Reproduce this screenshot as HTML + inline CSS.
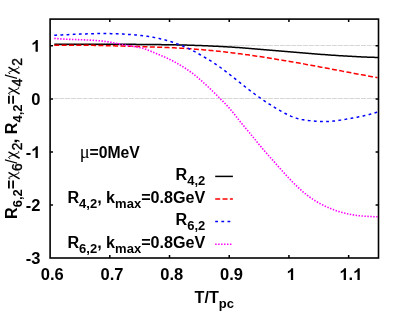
<!DOCTYPE html>
<html><head><meta charset="utf-8">
<style>
html,body{margin:0;padding:0;background:#fff;}
svg{display:block;will-change:transform;}
text{font-family:"Liberation Sans",sans-serif;font-weight:bold;font-size:16.15px;fill:#000;}
.sub{font-size:13px;}
.tk{font-size:16.5px;}
</style></head><body>
<svg width="407" height="326" viewBox="0 0 407 326">
<rect width="407" height="326" fill="#fff"/>
<g stroke="#d6d6d6" stroke-width="1" stroke-dasharray="4.9,0.9" fill="none"><path d="M53.6,98.50 H376.0"/><path d="M53.6,45.50 H376.0"/></g>
<g fill="none" stroke-linejoin="round">
<path d="M54.30,44.20 L55.80,44.20 L57.30,44.19 L58.80,44.19 L60.30,44.19 L61.80,44.19 L63.30,44.19 L64.80,44.18 L66.30,44.18 L67.80,44.18 L69.30,44.18 L70.80,44.18 L72.30,44.18 L73.80,44.18 L75.30,44.18 L76.80,44.18 L78.30,44.18 L79.80,44.18 L81.30,44.18 L82.80,44.18 L84.30,44.18 L85.80,44.18 L87.30,44.18 L88.80,44.18 L90.30,44.18 L91.80,44.18 L93.30,44.19 L94.80,44.19 L96.30,44.19 L97.80,44.20 L99.30,44.20 L100.80,44.20 L102.30,44.21 L103.80,44.21 L105.30,44.21 L106.80,44.22 L108.30,44.22 L109.80,44.23 L111.30,44.23 L112.80,44.24 L114.30,44.25 L115.80,44.25 L117.30,44.26 L118.80,44.27 L120.30,44.27 L121.80,44.28 L123.30,44.29 L124.80,44.30 L126.30,44.31 L127.80,44.31 L129.30,44.32 L130.80,44.33 L132.30,44.34 L133.80,44.35 L135.30,44.36 L136.80,44.38 L138.30,44.39 L139.80,44.40 L141.30,44.41 L142.80,44.42 L144.30,44.44 L145.80,44.45 L147.30,44.46 L148.80,44.48 L150.30,44.49 L151.80,44.51 L153.30,44.52 L154.80,44.54 L156.30,44.56 L157.80,44.58 L159.30,44.60 L160.80,44.62 L162.30,44.64 L163.80,44.66 L165.30,44.68 L166.80,44.71 L168.30,44.73 L169.80,44.76 L171.30,44.78 L172.80,44.81 L174.30,44.84 L175.80,44.87 L177.30,44.90 L178.80,44.94 L180.30,44.97 L181.80,45.01 L183.30,45.04 L184.80,45.08 L186.30,45.12 L187.80,45.17 L189.30,45.21 L190.80,45.25 L192.30,45.30 L193.80,45.35 L195.30,45.40 L196.80,45.45 L198.30,45.50 L199.80,45.56 L201.30,45.61 L202.80,45.67 L204.30,45.73 L205.80,45.79 L207.30,45.86 L208.80,45.92 L210.30,45.99 L211.80,46.06 L213.30,46.13 L214.80,46.20 L216.30,46.27 L217.80,46.35 L219.30,46.43 L220.80,46.51 L222.30,46.59 L223.80,46.67 L225.30,46.76 L226.80,46.84 L228.30,46.93 L229.80,47.03 L231.30,47.12 L232.80,47.21 L234.30,47.31 L235.80,47.41 L237.30,47.51 L238.80,47.62 L240.30,47.72 L241.80,47.83 L243.30,47.94 L244.80,48.05 L246.30,48.16 L247.80,48.28 L249.30,48.40 L250.80,48.51 L252.30,48.63 L253.80,48.75 L255.30,48.88 L256.80,49.00 L258.30,49.13 L259.80,49.25 L261.30,49.38 L262.80,49.51 L264.30,49.63 L265.80,49.76 L267.30,49.89 L268.80,50.02 L270.30,50.15 L271.80,50.28 L273.30,50.41 L274.80,50.55 L276.30,50.68 L277.80,50.81 L279.30,50.94 L280.80,51.07 L282.30,51.20 L283.80,51.33 L285.30,51.46 L286.80,51.59 L288.30,51.72 L289.80,51.85 L291.30,51.98 L292.80,52.10 L294.30,52.23 L295.80,52.36 L297.30,52.48 L298.80,52.61 L300.30,52.73 L301.80,52.86 L303.30,52.98 L304.80,53.10 L306.30,53.23 L307.80,53.35 L309.30,53.47 L310.80,53.59 L312.30,53.70 L313.80,53.82 L315.30,53.94 L316.80,54.05 L318.30,54.17 L319.80,54.28 L321.30,54.39 L322.80,54.50 L324.30,54.61 L325.80,54.72 L327.30,54.83 L328.80,54.94 L330.30,55.04 L331.80,55.14 L333.30,55.25 L334.80,55.35 L336.30,55.45 L337.80,55.54 L339.30,55.64 L340.80,55.73 L342.30,55.83 L343.80,55.92 L345.30,56.01 L346.80,56.10 L348.30,56.18 L349.80,56.27 L351.30,56.35 L352.80,56.43 L354.30,56.51 L355.80,56.59 L357.30,56.67 L358.80,56.74 L360.30,56.81 L361.80,56.88 L363.30,56.95 L364.80,57.01 L366.30,57.08 L367.80,57.14 L369.30,57.20 L370.80,57.26 L372.30,57.31 L373.80,57.36 L375.30,57.41 L376.80,57.46 L378.00,57.50" stroke="#000" stroke-width="1.5"/>
<path d="M54.30,45.30 L55.80,45.28 L57.30,45.26 L58.80,45.24 L60.30,45.22 L61.80,45.21 L63.30,45.20 L64.80,45.19 L66.30,45.18 L67.80,45.18 L69.30,45.17 L70.80,45.17 L72.30,45.17 L73.80,45.18 L75.30,45.18 L76.80,45.19 L78.30,45.20 L79.80,45.21 L81.30,45.22 L82.80,45.23 L84.30,45.25 L85.80,45.27 L87.30,45.28 L88.80,45.30 L90.30,45.33 L91.80,45.35 L93.30,45.37 L94.80,45.40 L96.30,45.43 L97.80,45.46 L99.30,45.49 L100.80,45.52 L102.30,45.55 L103.80,45.58 L105.30,45.62 L106.80,45.65 L108.30,45.69 L109.80,45.72 L111.30,45.76 L112.80,45.80 L114.30,45.84 L115.80,45.88 L117.30,45.92 L118.80,45.96 L120.30,46.01 L121.80,46.05 L123.30,46.09 L124.80,46.14 L126.30,46.18 L127.80,46.23 L129.30,46.27 L130.80,46.32 L132.30,46.36 L133.80,46.41 L135.30,46.45 L136.80,46.50 L138.30,46.55 L139.80,46.59 L141.30,46.64 L142.80,46.69 L144.30,46.73 L145.80,46.78 L147.30,46.83 L148.80,46.88 L150.30,46.93 L151.80,46.97 L153.30,47.02 L154.80,47.08 L156.30,47.13 L157.80,47.18 L159.30,47.23 L160.80,47.29 L162.30,47.35 L163.80,47.41 L165.30,47.47 L166.80,47.53 L168.30,47.59 L169.80,47.66 L171.30,47.72 L172.80,47.79 L174.30,47.86 L175.80,47.94 L177.30,48.01 L178.80,48.09 L180.30,48.17 L181.80,48.26 L183.30,48.34 L184.80,48.43 L186.30,48.53 L187.80,48.62 L189.30,48.72 L190.80,48.82 L192.30,48.93 L193.80,49.03 L195.30,49.15 L196.80,49.26 L198.30,49.38 L199.80,49.50 L201.30,49.62 L202.80,49.75 L204.30,49.88 L205.80,50.01 L207.30,50.15 L208.80,50.29 L210.30,50.43 L211.80,50.57 L213.30,50.72 L214.80,50.87 L216.30,51.02 L217.80,51.18 L219.30,51.34 L220.80,51.50 L222.30,51.66 L223.80,51.83 L225.30,52.00 L226.80,52.17 L228.30,52.35 L229.80,52.52 L231.30,52.70 L232.80,52.89 L234.30,53.07 L235.80,53.26 L237.30,53.45 L238.80,53.64 L240.30,53.84 L241.80,54.04 L243.30,54.24 L244.80,54.44 L246.30,54.64 L247.80,54.85 L249.30,55.06 L250.80,55.27 L252.30,55.49 L253.80,55.70 L255.30,55.92 L256.80,56.14 L258.30,56.36 L259.80,56.59 L261.30,56.82 L262.80,57.04 L264.30,57.28 L265.80,57.51 L267.30,57.74 L268.80,57.98 L270.30,58.22 L271.80,58.46 L273.30,58.70 L274.80,58.94 L276.30,59.19 L277.80,59.43 L279.30,59.68 L280.80,59.93 L282.30,60.19 L283.80,60.44 L285.30,60.69 L286.80,60.95 L288.30,61.21 L289.80,61.47 L291.30,61.73 L292.80,61.99 L294.30,62.25 L295.80,62.52 L297.30,62.78 L298.80,63.05 L300.30,63.32 L301.80,63.59 L303.30,63.86 L304.80,64.13 L306.30,64.40 L307.80,64.67 L309.30,64.95 L310.80,65.22 L312.30,65.50 L313.80,65.78 L315.30,66.05 L316.80,66.33 L318.30,66.61 L319.80,66.89 L321.30,67.17 L322.80,67.45 L324.30,67.73 L325.80,68.01 L327.30,68.29 L328.80,68.57 L330.30,68.86 L331.80,69.14 L333.30,69.42 L334.80,69.71 L336.30,69.99 L337.80,70.27 L339.30,70.56 L340.80,70.84 L342.30,71.12 L343.80,71.41 L345.30,71.69 L346.80,71.98 L348.30,72.26 L349.80,72.54 L351.30,72.83 L352.80,73.11 L354.30,73.39 L355.80,73.67 L357.30,73.96 L358.80,74.24 L360.30,74.52 L361.80,74.80 L363.30,75.08 L364.80,75.36 L366.30,75.64 L367.80,75.92 L369.30,76.19 L370.80,76.47 L372.30,76.75 L373.80,77.02 L375.30,77.30 L376.80,77.57 L377.50,77.70" stroke="#ff0000" stroke-width="1.5" stroke-dasharray="5,2.35"/>
<path d="M54.30,35.20 L55.80,35.14 L57.30,35.08 L58.80,35.02 L60.30,34.96 L61.80,34.89 L63.30,34.83 L64.80,34.76 L66.30,34.69 L67.80,34.63 L69.30,34.56 L70.80,34.49 L72.30,34.43 L73.80,34.36 L75.30,34.29 L76.80,34.23 L78.30,34.17 L79.80,34.11 L81.30,34.05 L82.80,33.99 L84.30,33.94 L85.80,33.89 L87.30,33.84 L88.80,33.79 L90.30,33.75 L91.80,33.71 L93.30,33.68 L94.80,33.64 L96.30,33.62 L97.80,33.60 L99.30,33.58 L100.80,33.57 L102.30,33.56 L103.80,33.56 L105.30,33.56 L106.80,33.57 L108.30,33.59 L109.80,33.61 L111.30,33.64 L112.80,33.68 L114.30,33.72 L115.80,33.77 L117.30,33.83 L118.80,33.89 L120.30,33.96 L121.80,34.03 L123.30,34.11 L124.80,34.19 L126.30,34.28 L127.80,34.37 L129.30,34.47 L130.80,34.58 L132.30,34.69 L133.80,34.82 L135.30,34.95 L136.80,35.08 L138.30,35.23 L139.80,35.39 L141.30,35.56 L142.80,35.74 L144.30,35.93 L145.80,36.13 L147.30,36.34 L148.80,36.57 L150.30,36.81 L151.80,37.07 L153.30,37.33 L154.80,37.62 L156.30,37.91 L157.80,38.23 L159.30,38.56 L160.80,38.91 L162.30,39.27 L163.80,39.65 L165.30,40.05 L166.80,40.47 L168.30,40.91 L169.80,41.36 L171.30,41.83 L172.80,42.31 L174.30,42.82 L175.80,43.34 L177.30,43.87 L178.80,44.42 L180.30,44.99 L181.80,45.58 L183.30,46.19 L184.80,46.82 L186.30,47.48 L187.80,48.16 L189.30,48.86 L190.80,49.60 L192.30,50.36 L193.80,51.15 L195.30,51.96 L196.80,52.80 L198.30,53.64 L199.80,54.51 L201.30,55.38 L202.80,56.25 L204.30,57.13 L205.80,58.00 L207.30,58.89 L208.80,59.78 L210.30,60.69 L211.80,61.63 L213.30,62.59 L214.80,63.57 L216.30,64.59 L217.80,65.62 L219.30,66.68 L220.80,67.76 L222.30,68.86 L223.80,69.97 L225.30,71.10 L226.80,72.24 L228.30,73.39 L229.80,74.56 L231.30,75.73 L232.80,76.92 L234.30,78.12 L235.80,79.32 L237.30,80.53 L238.80,81.73 L240.30,82.94 L241.80,84.14 L243.30,85.34 L244.80,86.52 L246.30,87.70 L247.80,88.87 L249.30,90.02 L250.80,91.16 L252.30,92.29 L253.80,93.41 L255.30,94.51 L256.80,95.60 L258.30,96.67 L259.80,97.73 L261.30,98.78 L262.80,99.81 L264.30,100.82 L265.80,101.82 L267.30,102.81 L268.80,103.78 L270.30,104.74 L271.80,105.69 L273.30,106.62 L274.80,107.53 L276.30,108.44 L277.80,109.32 L279.30,110.20 L280.80,111.06 L282.30,111.90 L283.80,112.72 L285.30,113.52 L286.80,114.28 L288.30,115.01 L289.80,115.69 L291.30,116.34 L292.80,116.93 L294.30,117.47 L295.80,117.96 L297.30,118.40 L298.80,118.79 L300.30,119.14 L301.80,119.46 L303.30,119.74 L304.80,119.99 L306.30,120.22 L307.80,120.43 L309.30,120.62 L310.80,120.79 L312.30,120.95 L313.80,121.09 L315.30,121.21 L316.80,121.31 L318.30,121.39 L319.80,121.45 L321.30,121.50 L322.80,121.52 L324.30,121.52 L325.80,121.51 L327.30,121.47 L328.80,121.41 L330.30,121.33 L331.80,121.22 L333.30,121.09 L334.80,120.94 L336.30,120.77 L337.80,120.58 L339.30,120.36 L340.80,120.13 L342.30,119.89 L343.80,119.63 L345.30,119.37 L346.80,119.10 L348.30,118.83 L349.80,118.55 L351.30,118.28 L352.80,118.01 L354.30,117.73 L355.80,117.44 L357.30,117.15 L358.80,116.86 L360.30,116.55 L361.80,116.24 L363.30,115.91 L364.80,115.57 L366.30,115.22 L367.80,114.85 L369.30,114.46 L370.80,114.05 L372.30,113.63 L373.80,113.18 L375.30,112.71 L376.80,112.21 L378.00,111.80" stroke="#0000ff" stroke-width="1.5" stroke-dasharray="2.8,3.35"/>
<path d="M54.30,38.40 L55.80,38.54 L57.30,38.67 L58.80,38.78 L60.30,38.89 L61.80,38.98 L63.30,39.07 L64.80,39.15 L66.30,39.22 L67.80,39.28 L69.30,39.34 L70.80,39.40 L72.30,39.45 L73.80,39.50 L75.30,39.55 L76.80,39.60 L78.30,39.65 L79.80,39.69 L81.30,39.74 L82.80,39.80 L84.30,39.85 L85.80,39.91 L87.30,39.98 L88.80,40.05 L90.30,40.12 L91.80,40.21 L93.30,40.30 L94.80,40.41 L96.30,40.52 L97.80,40.65 L99.30,40.78 L100.80,40.93 L102.30,41.10 L103.80,41.27 L105.30,41.47 L106.80,41.68 L108.30,41.90 L109.80,42.15 L111.30,42.41 L112.80,42.69 L114.30,42.97 L115.80,43.26 L117.30,43.56 L118.80,43.86 L120.30,44.15 L121.80,44.44 L123.30,44.72 L124.80,44.99 L126.30,45.25 L127.80,45.49 L129.30,45.72 L130.80,45.95 L132.30,46.18 L133.80,46.41 L135.30,46.67 L136.80,46.94 L138.30,47.24 L139.80,47.57 L141.30,47.94 L142.80,48.35 L144.30,48.81 L145.80,49.33 L147.30,49.88 L148.80,50.46 L150.30,51.06 L151.80,51.68 L153.30,52.31 L154.80,52.94 L156.30,53.57 L157.80,54.19 L159.30,54.81 L160.80,55.43 L162.30,56.06 L163.80,56.70 L165.30,57.36 L166.80,58.03 L168.30,58.73 L169.80,59.45 L171.30,60.19 L172.80,60.96 L174.30,61.76 L175.80,62.58 L177.30,63.43 L178.80,64.30 L180.30,65.19 L181.80,66.10 L183.30,67.03 L184.80,67.99 L186.30,68.97 L187.80,69.98 L189.30,71.02 L190.80,72.09 L192.30,73.20 L193.80,74.34 L195.30,75.53 L196.80,76.75 L198.30,78.01 L199.80,79.30 L201.30,80.62 L202.80,81.96 L204.30,83.33 L205.80,84.70 L207.30,86.10 L208.80,87.51 L210.30,88.93 L211.80,90.37 L213.30,91.82 L214.80,93.28 L216.30,94.74 L217.80,96.22 L219.30,97.71 L220.80,99.20 L222.30,100.70 L223.80,102.22 L225.30,103.77 L226.80,105.36 L228.30,107.00 L229.80,108.69 L231.30,110.45 L232.80,112.26 L234.30,114.12 L235.80,116.01 L237.30,117.92 L238.80,119.82 L240.30,121.70 L241.80,123.55 L243.30,125.38 L244.80,127.19 L246.30,128.99 L247.80,130.79 L249.30,132.58 L250.80,134.38 L252.30,136.20 L253.80,138.02 L255.30,139.86 L256.80,141.69 L258.30,143.52 L259.80,145.33 L261.30,147.13 L262.80,148.91 L264.30,150.66 L265.80,152.39 L267.30,154.09 L268.80,155.78 L270.30,157.46 L271.80,159.14 L273.30,160.81 L274.80,162.50 L276.30,164.19 L277.80,165.89 L279.30,167.59 L280.80,169.28 L282.30,170.96 L283.80,172.63 L285.30,174.28 L286.80,175.91 L288.30,177.52 L289.80,179.10 L291.30,180.66 L292.80,182.19 L294.30,183.70 L295.80,185.19 L297.30,186.64 L298.80,188.07 L300.30,189.46 L301.80,190.80 L303.30,192.11 L304.80,193.36 L306.30,194.57 L307.80,195.73 L309.30,196.84 L310.80,197.90 L312.30,198.92 L313.80,199.90 L315.30,200.84 L316.80,201.74 L318.30,202.61 L319.80,203.44 L321.30,204.23 L322.80,205.00 L324.30,205.73 L325.80,206.44 L327.30,207.12 L328.80,207.77 L330.30,208.40 L331.80,209.01 L333.30,209.59 L334.80,210.15 L336.30,210.68 L337.80,211.19 L339.30,211.67 L340.80,212.13 L342.30,212.55 L343.80,212.96 L345.30,213.33 L346.80,213.69 L348.30,214.01 L349.80,214.32 L351.30,214.60 L352.80,214.86 L354.30,215.09 L355.80,215.31 L357.30,215.50 L358.80,215.68 L360.30,215.84 L361.80,215.98 L363.30,216.10 L364.80,216.22 L366.30,216.32 L367.80,216.41 L369.30,216.49 L370.80,216.56 L372.30,216.62 L373.80,216.68 L375.30,216.73 L376.80,216.78 L377.50,216.80" stroke="#ff00ff" stroke-width="1.6" stroke-dasharray="1.45,1.5"/>
</g>
<g stroke="#000" stroke-width="1.5" fill="none"><path d="M109.81,258.0 v-2.9 M109.81,19.1 v2.9"/><path d="M169.52,258.0 v-2.9 M169.52,19.1 v2.9"/><path d="M229.23,258.0 v-2.9 M229.23,19.1 v2.9"/><path d="M288.94,258.0 v-2.9 M288.94,19.1 v2.9"/><path d="M348.65,258.0 v-2.9 M348.65,19.1 v2.9"/><path d="M50.1,205.11 h2.9 M378.5,205.11 h-2.9"/><path d="M50.1,152.02 h2.9 M378.5,152.02 h-2.9"/><path d="M50.1,98.93 h2.9 M378.5,98.93 h-2.9"/><path d="M50.1,45.84 h2.9 M378.5,45.84 h-2.9"/></g>
<rect x="50.1" y="19.1" width="328.4" height="238.9" fill="none" stroke="#000" stroke-width="1.6"/>
<text class="tk" transform="translate(40.83,280.1) scale(1,1)">0</text><text class="tk" transform="translate(50.01,280.1) scale(1,1)">.</text><text class="tk" transform="translate(54.59,280.1) scale(1,1)">6</text><text class="tk" transform="translate(100.54,280.1) scale(1,1)">0</text><text class="tk" transform="translate(109.72,280.1) scale(1,1)">.</text><text class="tk" transform="translate(114.30,280.1) scale(1,1)">7</text><text class="tk" transform="translate(160.25,280.1) scale(1,1)">0</text><text class="tk" transform="translate(169.42,280.1) scale(1,1)">.</text><text class="tk" transform="translate(174.01,280.1) scale(1,1)">8</text><text class="tk" transform="translate(219.96,280.1) scale(1,1)">0</text><text class="tk" transform="translate(229.13,280.1) scale(1,1)">.</text><text class="tk" transform="translate(233.72,280.1) scale(1,1)">9</text><path d="M293.15,280.10 L293.15,268.29 L291.30,268.29 C290.87,269.54 289.60,270.61 287.87,271.19 L287.87,273.25 C289.02,272.92 290.10,272.35 290.87,271.60 L290.87,280.10 Z" fill="#000"/><path d="M345.98,280.10 L345.98,268.29 L344.13,268.29 C343.70,269.54 342.43,270.61 340.70,271.19 L340.70,273.25 C341.85,272.92 342.93,272.35 343.70,271.60 L343.70,280.10 Z" fill="#000"/><text class="tk" transform="translate(348.55,280.1) scale(1,1)">.</text><path d="M359.74,280.10 L359.74,268.29 L357.89,268.29 C357.46,269.54 356.19,270.61 354.46,271.19 L354.46,273.25 C355.61,272.92 356.69,272.35 357.46,271.60 L357.46,280.10 Z" fill="#000"/>
<text class="tk" transform="translate(25.73,264.2) scale(1,1)">-</text><text class="tk" transform="translate(31.23,264.2) scale(1,1)">3</text><text class="tk" transform="translate(25.73,211.1) scale(1,1)">-</text><text class="tk" transform="translate(31.23,211.1) scale(1,1)">2</text><text class="tk" transform="translate(25.73,158.0) scale(1,1)">-</text><path d="M37.83,158.00 L37.83,146.19 L35.98,146.19 C35.55,147.44 34.28,148.51 32.55,149.09 L32.55,151.15 C33.70,150.82 34.77,150.25 35.55,149.50 L35.55,158.00 Z" fill="#000"/><text class="tk" transform="translate(31.23,104.9) scale(1,1)">0</text><path d="M37.83,51.80 L37.83,39.99 L35.98,39.99 C35.55,41.24 34.28,42.31 32.55,42.89 L32.55,44.95 C33.70,44.62 34.77,44.04 35.55,43.30 L35.55,51.80 Z" fill="#000"/>
<text transform="translate(194.6,302.8) scale(1,1)">T/T<tspan class="sub" dy="5">pc</tspan></text>
<g transform="translate(16.6,218.9) rotate(-90)"><text transform="translate(0.00,0) scale(1,1)">R</text><text class="sub" transform="translate(11.67,5) scale(1,1)">6,2</text><text transform="translate(29.66,0.8) scale(1,1)">=</text><g transform="translate(40.0,0)" fill="none" stroke="#000"><path d="M6.5,-8.1 L0.1,3.0" stroke-width="1.55"/><path d="M0.0,-6.8 C0.0,-8.0 0.9,-8.6 1.6,-7.4 L5.3,1.3 C5.8,2.5 6.5,2.8 7.0,1.9" stroke-width="0.95" stroke-linecap="round"/></g><text class="sub" style="font-weight:normal;font-size:13.8px;stroke:#000;stroke-width:0.4px" transform="translate(47.98,5) scale(1,1)">6</text><text style="font-weight:normal;stroke:#000;stroke-width:0.12px" transform="translate(55.17,0) scale(1,1)">/</text><g transform="translate(60.56,0)" fill="none" stroke="#000"><path d="M6.5,-8.1 L0.1,3.0" stroke-width="1.55"/><path d="M0.0,-6.8 C0.0,-8.0 0.9,-8.6 1.6,-7.4 L5.3,1.3 C5.8,2.5 6.5,2.8 7.0,1.9" stroke-width="0.95" stroke-linecap="round"/></g><text class="sub" style="font-weight:normal;font-size:13.8px;stroke:#000;stroke-width:0.4px" transform="translate(68.54,5) scale(1,1)">2</text><text transform="translate(75.73,0) scale(1,1)">,</text><text transform="translate(84.72,0) scale(1,1)">R</text><text class="sub" transform="translate(96.40,5) scale(1,1)">4,2</text><text transform="translate(114.38,0.8) scale(1,1)">=</text><g transform="translate(124.72,0)" fill="none" stroke="#000"><path d="M6.5,-8.1 L0.1,3.0" stroke-width="1.55"/><path d="M0.0,-6.8 C0.0,-8.0 0.9,-8.6 1.6,-7.4 L5.3,1.3 C5.8,2.5 6.5,2.8 7.0,1.9" stroke-width="0.95" stroke-linecap="round"/></g><text class="sub" style="font-weight:normal;font-size:13.8px;stroke:#000;stroke-width:0.4px" transform="translate(132.70,5) scale(1,1)">4</text><text style="font-weight:normal;stroke:#000;stroke-width:0.12px" transform="translate(139.89,0) scale(1,1)">/</text><g transform="translate(145.29,0)" fill="none" stroke="#000"><path d="M6.5,-8.1 L0.1,3.0" stroke-width="1.55"/><path d="M0.0,-6.8 C0.0,-8.0 0.9,-8.6 1.6,-7.4 L5.3,1.3 C5.8,2.5 6.5,2.8 7.0,1.9" stroke-width="0.95" stroke-linecap="round"/></g><text class="sub" style="font-weight:normal;font-size:13.8px;stroke:#000;stroke-width:0.4px" transform="translate(153.27,5) scale(1,1)">2</text></g>
<text transform="translate(79.8,158) scale(1,1)" style="font-family:'Liberation Serif',serif;font-weight:normal;font-size:18.5px">μ</text><text transform="translate(89.5,158) scale(1,1)" style="font-size:15.75px">=0MeV</text>
<text transform="translate(205.3,180.4) scale(1,1)" text-anchor="end">R<tspan class="sub" dy="5">4,2</tspan></text>
<text transform="translate(205.3,202.7) scale(1,1)" text-anchor="end">R<tspan class="sub" dy="5">4,2</tspan><tspan dy="-5">, k</tspan><tspan class="sub" dy="5">max</tspan><tspan dy="-5">=0.8GeV</tspan></text>
<text transform="translate(205.3,225.4) scale(1,1)" text-anchor="end">R<tspan class="sub" dy="5">6,2</tspan></text>
<text transform="translate(205.3,247.8) scale(1,1)" text-anchor="end">R<tspan class="sub" dy="5">6,2</tspan><tspan dy="-5">, k</tspan><tspan class="sub" dy="5">max</tspan><tspan dy="-5">=0.8GeV</tspan></text>
<g fill="none">
<path d="M215.2,176.4 H232.9" stroke="#000" stroke-width="1.5"/>
<path d="M215.2,199 H232.9" stroke="#ff0000" stroke-width="1.5" stroke-dasharray="5,2.35"/>
<path d="M215.2,221.6 H232.9" stroke="#0000ff" stroke-width="1.5" stroke-dasharray="2.8,3.35"/>
<path d="M215.2,244.3 H232.9" stroke="#ff00ff" stroke-width="1.6" stroke-dasharray="1.45,1.5"/>
</g>
</svg>
</body></html>
